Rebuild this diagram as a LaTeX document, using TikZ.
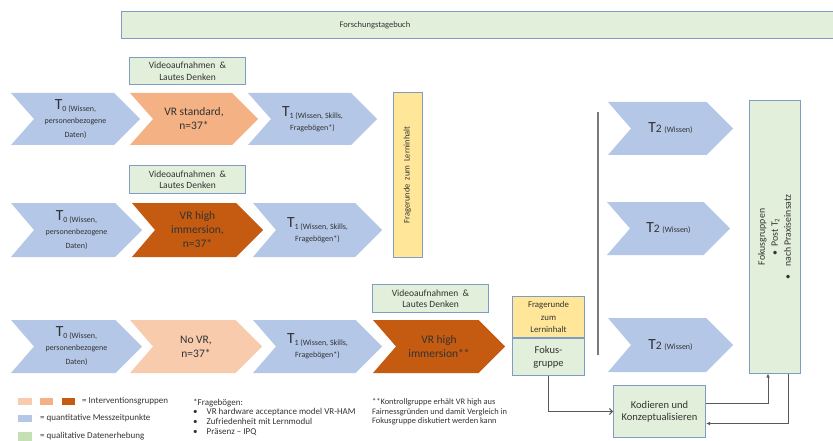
\documentclass[tikz,border=0pt]{standalone}
\usepackage{fontspec}
\setmainfont{Carlito}
\usetikzlibrary{arrows.meta}

\definecolor{blau}{HTML}{B4C7E7}
\definecolor{orhell}{HTML}{F8CBAD}
\definecolor{ormittel}{HTML}{F4B183}
\definecolor{ordunkel}{HTML}{C55A11}
\definecolor{gruen}{HTML}{E2EFDA}
\definecolor{gruenleg}{HTML}{C5E0B4}
\definecolor{gelb}{HTML}{FFE699}
\definecolor{rand}{HTML}{7F9CC4}
\definecolor{linie}{HTML}{595959}
\definecolor{schrift}{HTML}{333333}

\newcommand{\grossT}{{\fontsize{15.5}{15}\selectfont T}}
\newcommand{\klein}{\fontsize{8}{9}\selectfont}

\tikzset{
  chevtext/.style={align=center, inner sep=0pt, text=schrift, font=\fontsize{11.5}{14}\selectfont},
  greenbox/.style={draw=rand, fill=gruen, line width=1pt, align=center, inner sep=1pt, text=schrift, font=\fontsize{9.5}{11.5}\selectfont},
  yellowbox/.style={greenbox, fill=gelb},
  flow/.style={draw=linie, line width=0.9pt},
  legtext/.style={anchor=west, inner sep=0pt, text=schrift, font=\fontsize{9}{10}\selectfont}
}

% name, left, top, tip, bottom, fill, text
\newcommand{\chevron}[7]{%
  \fill[#6] (#2,#3) -- ({#4-(#5-#3)/2},#3) -- (#4,{(#3+#5)/2}) -- ({#4-(#5-#3)/2},#5) -- (#2,#5) -- ({#2+23},{(#3+#5)/2}) -- cycle;
  \node[chevtext] (#1) at ({(#2+#4)/2},{(#3+#5)/2}) {#7};}

\newcommand{\Tnull}{\grossT\raisebox{-2pt}{\klein 0 (Wissen,}\\{\klein personenbezogene}\\{\klein Daten)}}
\newcommand{\Teins}{\grossT\raisebox{-2pt}{\klein 1 (Wissen, Skills,}\\{\klein Fragebögen*)}}
\newcommand{\Tzwei}{\grossT{\fontsize{11.5}{11}\selectfont 2} {\klein (Wissen)}}

\begin{document}
\begin{tikzpicture}[x=1pt, y=-1pt]
  \useasboundingbox (0,0) rectangle (833,441);

  \draw[greenbox] (121,12) rectangle (836,39);
  \node[text=schrift, font=\fontsize{8.5}{10}\selectfont] (tagebuch) at (375,25.5) {Forschungstagebuch};

  \chevron{T0a}{11}{93}{140}{145}{blau}{\Tnull}
  \chevron{VRs}{130}{93}{258}{145}{ormittel}{VR standard,\\n=37*}
  \chevron{T1a}{248}{93}{377}{145}{blau}{\Teins}

  \chevron{T0b}{11}{203}{142}{257}{blau}{\Tnull}
  \chevron{VRh}{132}{203}{263}{257}{ordunkel}{VR high\\immersion,\\n=37*}
  \chevron{T1b}{253}{203}{382}{257}{blau}{\Teins}

  \chevron{T0c}{11}{320}{142}{373}{blau}{\Tnull}
  \chevron{NoVR}{130}{320}{262}{373}{orhell}{No VR,\\n=37*}
  \chevron{T1c}{253}{320}{382}{373}{blau}{\Teins}
  \chevron{VRk}{373}{320}{505}{373}{ordunkel}{VR high\\immersion**}

  \chevron{T2a}{608}{102}{733}{155}{blau}{\Tzwei}
  \chevron{T2b}{607}{202}{730}{255}{blau}{\Tzwei}
  \chevron{T2c}{608}{318}{733}{372}{blau}{\Tzwei}

  \node[greenbox, anchor=north west, minimum width=116, minimum height=27] (video1) at (129,57) {Videoaufnahmen\ \ \&\\Lautes Denken};
  \node[greenbox, anchor=north west, minimum width=116, minimum height=28] (video2) at (129,165) {Videoaufnahmen\ \ \&\\Lautes Denken};
  \node[greenbox, anchor=north west, minimum width=116, minimum height=28] (video3) at (372,284) {Videoaufnahmen\ \ \&\\Lautes Denken};

  \node[yellowbox, rotate=90, minimum width=164, minimum height=29, font=\fontsize{8.5}{9}\selectfont] (frage1) at (407.5,175) {Fragerunde\ \ zum\ \ Lerninhalt};

  \node[yellowbox, anchor=north west, minimum width=72, minimum height=41, font=\fontsize{8.8}{12.5}\selectfont] (frage2) at (512,296) {Fragerunde\\zum\\Lerninhalt};
  \node[greenbox, anchor=north, minimum width=72, minimum height=37, font=\fontsize{10.5}{13}\selectfont] (fokus) at (frage2.south) {Fokus-\\gruppe};

  \draw[draw=linie!80, line width=1.3pt] (598,112) -- (598,355);

  \node[greenbox, rotate=90, minimum width=272, minimum height=51, font=\fontsize{9.8}{13}\selectfont] (fokusgruppen) at (774.5,237) {Fokusgruppen\\\textbullet\hspace{5pt}Post T\textsubscript{2}\\\textbullet\hspace{8pt}nach Praxiseinsatz};

  \node[greenbox, anchor=north west, minimum width=92, minimum height=52, font=\fontsize{10.5}{12.5}\selectfont] (kodieren) at (613,385) {Kodieren und\\Konzeptualisieren};

  \draw[flow, -{Straight Barb[length=3pt, width=6pt]}] (fokus.south) |- (kodieren.west);
  \draw[flow, -{Latex[length=4pt, width=3.5pt]}] ([yshift=8pt]kodieren.east) -| ([xshift=-6.5pt]fokusgruppen.west);
  \draw[flow, -{Latex[length=4pt, width=3.5pt]}] ([xshift=13.5pt]fokusgruppen.west) |- ([yshift=-12pt]kodieren.east);

  \fill[orhell] (18,398) rectangle (32,405);
  \fill[ormittel] (40,398) rectangle (53,405);
  \fill[ordunkel] (62,398) rectangle (75,405);
  \fill[blau] (18,415) rectangle (32,422);
  \fill[gruenleg] (18,432) rectangle (32,441);
  \node[legtext] (leg1) at (82,401.5) {= Interventionsgruppen};
  \node[legtext] (leg2) at (40,418.5) {= quantitative Messzeitpunkte};
  \node[legtext] (leg3) at (40,436.5) {= qualitative Datenerhebung};

  \node[anchor=north west, inner sep=0pt, align=left, text=schrift, font=\fontsize{9}{9.8}\selectfont] (fragebogen) at (193,398.5) {*Fragebögen:\\
    \textbullet\hspace{9pt}VR hardware acceptance model VR-HAM\\
    \textbullet\hspace{9pt}Zufriedenheit mit Lernmodul\\
    \textbullet\hspace{9pt}Präsenz -- IPQ};

  \node[anchor=north west, inner sep=0pt, align=left, text=schrift, font=\fontsize{8.4}{9.6}\selectfont] (kontrolle) at (372,398.5) {**Kontrollgruppe erhält VR high aus\\
    Fairnessgründen und damit Vergleich in\\
    Fokusgruppe diskutiert werden kann};
\end{tikzpicture}
\end{document}
